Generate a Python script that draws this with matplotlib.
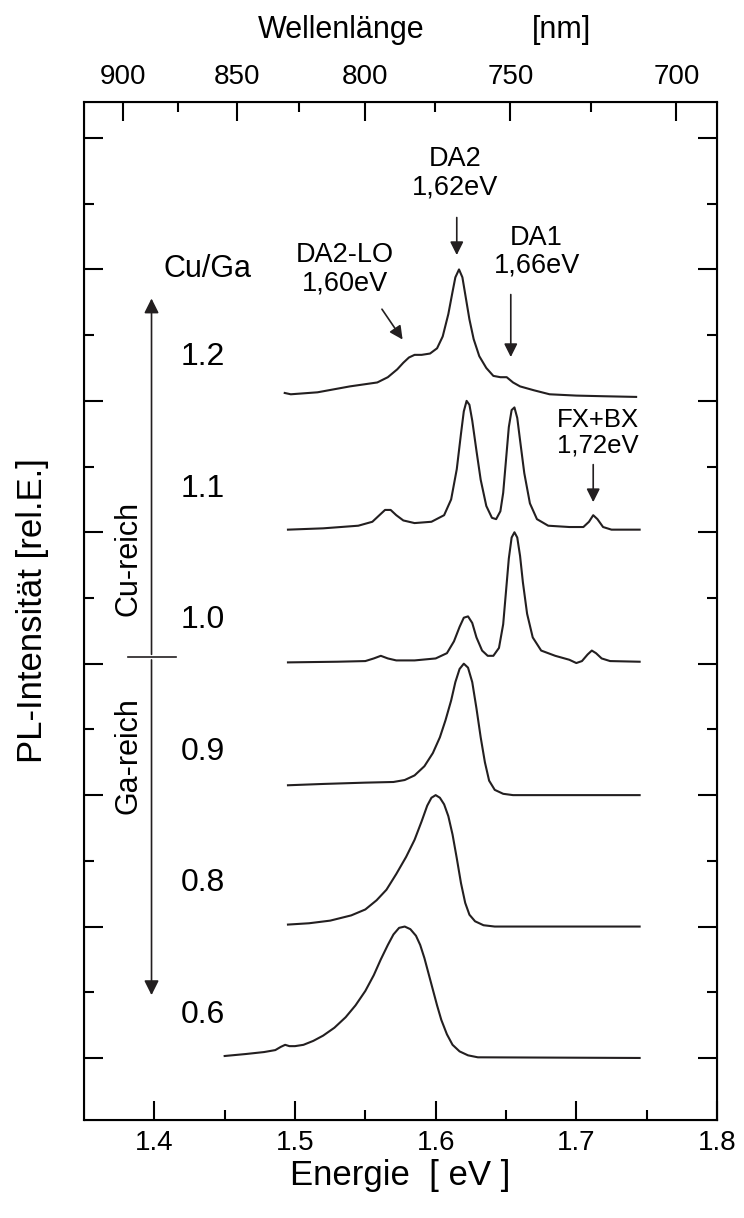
import numpy as np
import matplotlib
matplotlib.use("Agg")
import matplotlib.pyplot as plt

plt.rcParams['font.family'] = ['Liberation Sans', 'DejaVu Sans']

# Cu/Ga ratios and vertical offset of each spectrum
ratios = ['0.6', '0.8', '0.9', '1.0', '1.1', '1.2']
offsets = [0, 1, 2, 3, 4, 5]

# PL spectra (energy in eV, normalised intensity)
e_06 = [1.450, 1.465, 1.478, 1.486, 1.490, 1.493, 1.496, 1.500, 1.506, 1.513, 1.520, 1.528, 1.536,
        1.543, 1.550, 1.556, 1.561, 1.566, 1.570, 1.574, 1.578, 1.582, 1.586, 1.589, 1.592, 1.595,
        1.598, 1.601, 1.604, 1.608, 1.612, 1.617, 1.623, 1.630, 1.745]
i_06 = [0.015, 0.03, 0.045, 0.06, 0.085, 0.10, 0.09, 0.09, 0.10, 0.13, 0.17, 0.23, 0.31,
        0.40, 0.51, 0.63, 0.75, 0.86, 0.94, 0.99, 1.00, 0.98, 0.93, 0.86, 0.76, 0.64,
        0.52, 0.40, 0.29, 0.18, 0.10, 0.05, 0.02, 0.005, 0.0]

e_08 = [1.495, 1.510, 1.525, 1.540, 1.550, 1.558, 1.565, 1.572, 1.579, 1.585, 1.590, 1.594, 1.597,
        1.600, 1.603, 1.606, 1.609, 1.612, 1.615, 1.618, 1.621, 1.624, 1.628, 1.634, 1.642, 1.745]
i_08 = [0.015, 0.025, 0.045, 0.085, 0.13, 0.20, 0.28, 0.40, 0.53, 0.66, 0.80, 0.92, 0.98,
        1.00, 0.98, 0.93, 0.84, 0.70, 0.52, 0.33, 0.18, 0.09, 0.04, 0.01, 0.0, 0.0]

e_09 = [1.495, 1.520, 1.550, 1.570, 1.578, 1.585, 1.592, 1.598, 1.603, 1.607, 1.611, 1.614, 1.617,
        1.620, 1.623, 1.626, 1.629, 1.632, 1.635, 1.638, 1.642, 1.648, 1.655, 1.745]
i_09 = [0.075, 0.085, 0.095, 0.10, 0.115, 0.15, 0.22, 0.32, 0.44, 0.57, 0.72, 0.86, 0.96,
        1.00, 0.97, 0.86, 0.66, 0.44, 0.25, 0.11, 0.04, 0.01, 0.0, 0.0]

e_10 = [1.495, 1.530, 1.550, 1.556, 1.561, 1.566, 1.572, 1.585, 1.600, 1.608, 1.613, 1.617, 1.620,
        1.623, 1.626, 1.629, 1.633, 1.637, 1.641, 1.645, 1.648, 1.650, 1.652, 1.654, 1.656, 1.658,
        1.660, 1.662, 1.665, 1.669, 1.675, 1.685, 1.695, 1.700, 1.704, 1.708, 1.711, 1.714, 1.718,
        1.724, 1.745]
i_10 = [0.01, 0.015, 0.02, 0.04, 0.06, 0.04, 0.025, 0.025, 0.04, 0.08, 0.17, 0.28, 0.35,
        0.36, 0.31, 0.20, 0.10, 0.06, 0.06, 0.12, 0.30, 0.55, 0.80, 0.96, 1.00, 0.96,
        0.82, 0.62, 0.38, 0.20, 0.10, 0.06, 0.03, 0.005, 0.02, 0.07, 0.10, 0.08, 0.04,
        0.02, 0.015]

e_11 = [1.495, 1.520, 1.545, 1.555, 1.560, 1.564, 1.568, 1.572, 1.577, 1.585, 1.597, 1.606, 1.611,
        1.615, 1.618, 1.620, 1.622, 1.624, 1.626, 1.629, 1.632, 1.636, 1.640, 1.643, 1.646, 1.648,
        1.650, 1.652, 1.654, 1.656, 1.658, 1.660, 1.663, 1.667, 1.672, 1.680, 1.695, 1.705, 1.709,
        1.712, 1.715, 1.719, 1.725, 1.745]
i_11 = [0.02, 0.03, 0.05, 0.08, 0.13, 0.17, 0.17, 0.13, 0.09, 0.07, 0.08, 0.13, 0.25,
        0.48, 0.75, 0.92, 1.00, 0.97, 0.85, 0.62, 0.40, 0.20, 0.11, 0.10, 0.16, 0.30,
        0.55, 0.80, 0.93, 0.95, 0.87, 0.70, 0.45, 0.22, 0.10, 0.05, 0.04, 0.04, 0.08,
        0.13, 0.10, 0.04, 0.02, 0.02]

e_12 = [1.4927, 1.497, 1.516, 1.539, 1.5585, 1.566, 1.5727, 1.577, 1.581, 1.585, 1.590, 1.596, 1.601,
        1.605, 1.609, 1.612, 1.614, 1.6166, 1.619, 1.6215, 1.624, 1.627, 1.631, 1.636, 1.641, 1.646,
        1.6505, 1.655, 1.660, 1.670, 1.681, 1.700, 1.720, 1.7425]
i_12 = [0.06, 0.05, 0.065, 0.11, 0.14, 0.18, 0.24, 0.29, 0.33, 0.35, 0.35, 0.36, 0.40,
        0.49, 0.66, 0.83, 0.94, 1.00, 0.94, 0.78, 0.62, 0.47, 0.34, 0.25, 0.19, 0.18,
        0.18, 0.14, 0.11, 0.08, 0.05, 0.04, 0.035, 0.03]

energies = [e_06, e_08, e_09, e_10, e_11, e_12]
intens = [i_06, i_08, i_09, i_10, i_11, i_12]

wl_major = [900, 850, 800, 750, 700]
wl_minor = [875, 825, 775, 725]

fig = plt.figure(figsize=(7.44, 12.18), dpi=100)
ax = fig.add_axes([84/744, 1-1120/1218, 633/744, 1018/1218])

for e, i, off in zip(energies, intens, offsets):
    ax.plot(e, np.array(i) + off, color='#231f20', lw=1.5)

ax.set_xlim(1.35, 1.8)
ax.set_ylim(-0.472, 7.274)
ax.set_xticks([1.4, 1.5, 1.6, 1.7, 1.8])
ax.set_xticks([1.45, 1.55, 1.65, 1.75], minor=True)
ax.set_yticks(range(0, 8))
ax.set_yticks(np.arange(0.5, 7, 1.0), minor=True)
ax.set_yticklabels([])
ax.tick_params(which='both', direction='in', right=True, width=1.5, labelsize=20, pad=7)
ax.tick_params(which='major', length=14)
ax.tick_params(which='minor', length=7)
for s in ax.spines.values():
    s.set_linewidth(1.5)
ax.set_xlabel('Energie  [ eV ]', fontsize=25, labelpad=2)
ax.set_ylabel('PL-Intensität [rel.E.]', fontsize=25, labelpad=18)

# wavelength axis on top
ax2 = ax.twiny()
ax2.set_xlim(ax.get_xlim())
ax2.set_xticks([1239.84 / w for w in wl_major])
ax2.set_xticklabels([str(w) for w in wl_major])
ax2.set_xticks([1239.84 / w for w in wl_minor], minor=True)
ax2.tick_params(which='both', direction='in', width=1.5, labelsize=20, pad=9)
ax2.tick_params(which='major', length=14)
ax2.tick_params(which='minor', length=7)
fig.text(341/744, 1-30/1218, 'Wellenlänge', fontsize=22, ha='center', va='center')
fig.text(561/744, 1-30/1218, '[nm]', fontsize=22, ha='center', va='center')

# sample labels
for r, off in zip(ratios, offsets):
    ax.text(1.419, off + 0.33, r, fontsize=23, ha='left', va='center')
ax.text(1.4375, 6.0, 'Cu/Ga', fontsize=22, ha='center', va='center')

# Cu-rich / Ga-rich arrow
ax.annotate('', xy=(1.398, 5.8), xytext=(1.398, 3.05),
            arrowprops=dict(arrowstyle='-|>', color='#231f20', lw=1.2, mutation_scale=22))
ax.annotate('', xy=(1.398, 0.457), xytext=(1.398, 3.05),
            arrowprops=dict(arrowstyle='-|>', color='#231f20', lw=1.2, mutation_scale=22))
ax.plot([1.3816, 1.4156], [3.05, 3.05], color='#231f20', lw=1.2)
ax.text(1.3816, 3.8, 'Cu-reich', fontsize=22, rotation=90, ha='center', va='center')
ax.text(1.3816, 2.3, 'Ga-reich', fontsize=22, rotation=90, ha='center', va='center')

# peak annotations
arrow = dict(arrowstyle='-|>', color='#231f20', lw=1.2, mutation_scale=20)
ax.text(1.6137, 6.73, 'DA2\n1,62eV', fontsize=19.5, ha='center', va='center', linespacing=1.1)
ax.annotate('', xy=(1.615, 6.088), xytext=(1.615, 6.416), arrowprops=arrow)
ax.text(1.5352, 6.0, 'DA2-LO\n1,60eV', fontsize=19.5, ha='center', va='center', linespacing=1.1)
ax.annotate('', xy=(1.5776, 5.449), xytext=(1.5607, 5.715), arrowprops=arrow)
ax.text(1.6718, 6.134, 'DA1\n1,66eV', fontsize=19.5, ha='center', va='center', linespacing=1.1)
ax.annotate('', xy=(1.6534, 5.312), xytext=(1.6534, 5.83), arrowprops=arrow)
ax.text(1.7156, 4.756, 'FX+BX\n1,72eV', fontsize=18.5, ha='center', va='center', linespacing=1.1)
ax.annotate('', xy=(1.712, 4.208), xytext=(1.712, 4.536), arrowprops=arrow)

fig.savefig('out.png', dpi=100)
